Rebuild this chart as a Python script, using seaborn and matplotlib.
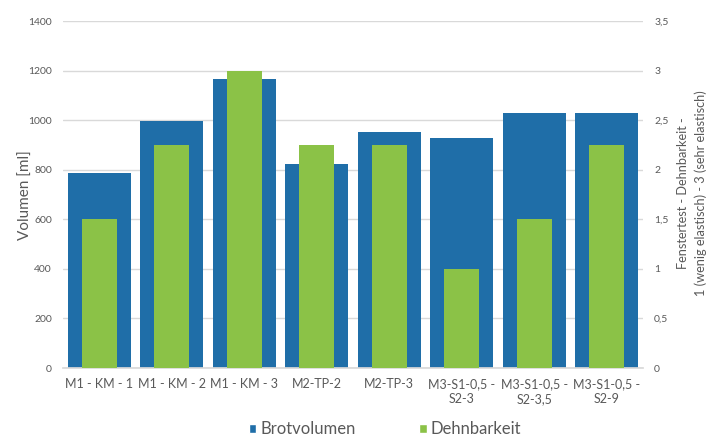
import matplotlib
matplotlib.use("Agg")
import matplotlib.pyplot as plt
import seaborn as sns
import pandas as pd
from matplotlib.patches import Patch

categories = ["M1 - KM - 1", "M1 - KM - 2", "M1 - KM - 3", "M2-TP-2", "M2-TP-3",
              "M3-S1-0,5 -\nS2-3", "M3-S1-0,5 -\nS2-3,5", "M3-S1-0,5 -\nS2-9"]
brotvolumen = [787, 995, 1168, 823, 953, 928, 1028, 1028]
dehnbarkeit = [1.5, 2.25, 3, 2.25, 2.25, 1, 1.5, 2.25]
left_ticks = [0, 200, 400, 600, 800, 1000, 1200, 1400]
right_ticks = [0, 0.5, 1, 1.5, 2, 2.5, 3, 3.5]
right_tick_labels = ["0", "0,5", "1", "1,5", "2", "2,5", "3", "3,5"]

sns.set_theme(style="white")
plt.rcParams["font.family"] = ["Lato", "DejaVu Sans"]

BLUE = "#1f6ea8"
GREEN = "#8bc247"
GRAY = "#595959"

df = pd.DataFrame({"cat": categories, "vol": brotvolumen, "dehn": dehnbarkeit})

fig = plt.figure(figsize=(7.13, 4.40), dpi=100)
ax1 = fig.add_axes([0.0884, 0.1636, 0.8136, 0.7886])
sns.barplot(data=df, x="cat", y="vol", color=BLUE, saturation=1, width=0.87,
            linewidth=0, ax=ax1, zorder=2)
ax1.set_ylim(0, 1400)
ax1.set_yticks(left_ticks)
ax1.set_xlim(-0.5, 7.5)
ax1.grid(axis="y", color="#d9d9d9", linewidth=1, zorder=0)
ax1.set_axisbelow(True)
for s in ["top", "right", "left"]:
    ax1.spines[s].set_visible(False)
ax1.spines["bottom"].set_color("#d9d9d9")
ax1.tick_params(axis="y", labelsize=7.5, labelcolor=GRAY, length=0, pad=8)
ax1.tick_params(axis="x", labelsize=9, labelcolor=GRAY, length=0, pad=7)
for t in ax1.get_xticklabels():
    t.set_linespacing(1.35)
ax1.set_xlabel("")
ax1.set_ylabel("")

ax2 = ax1.twinx()
sns.barplot(data=df, x="cat", y="dehn", color=GREEN, saturation=1, width=0.48,
            linewidth=0, ax=ax2, zorder=3)
ax2.set_ylim(0, 3.5)
ax2.set_yticks(right_ticks)
ax2.set_yticklabels(right_tick_labels)
ax2.set_xlim(-0.5, 7.5)
for s in ["top", "right", "left", "bottom"]:
    ax2.spines[s].set_visible(False)
ax2.tick_params(axis="y", labelsize=7.5, labelcolor=GRAY, length=0, pad=8)
ax2.set_ylabel("")
ax2.set_xlabel("")
ax2.grid(False)

fig.text(0.0365, 0.557, "Volumen [ml]", rotation=90, ha="center", va="center",
         fontsize=11, color=GRAY)
fig.text(0.9705, 0.561, "Fenstertest - Dehnbarkeit -\n1 (wenig elastisch) - 3 (sehr elastisch)",
         rotation=90, ha="center", va="center", fontsize=9.2, color=GRAY, linespacing=1.45)

handles = [Patch(facecolor=BLUE, label="Brotvolumen"), Patch(facecolor=GREEN, label="Dehnbarkeit")]
fig.legend(handles=handles, loc="center", bbox_to_anchor=(0.54, 0.025), ncol=2, frameon=False,
           fontsize=12, labelcolor=GRAY, handlelength=0.45, handleheight=0.45, handletextpad=0.25,
           columnspacing=3.8)

fig.savefig("out.png", dpi=100)
